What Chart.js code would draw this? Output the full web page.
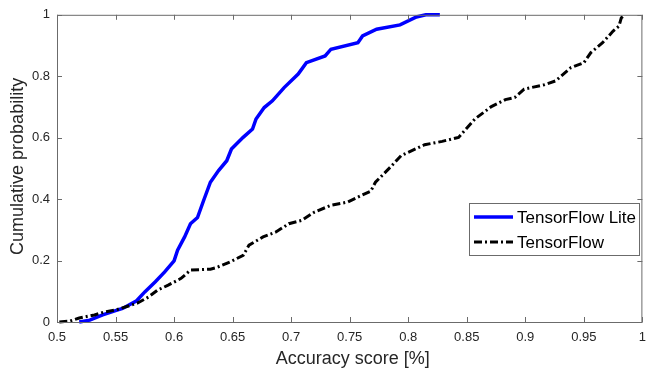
<!DOCTYPE html>
<html>
<head>
<meta charset="utf-8">
<script src="https://cdn.jsdelivr.net/npm/chart.js@4.4.1/dist/chart.umd.min.js"></script>
<style>
  html, body { margin: 0; padding: 0; background: #fff; }
  #wrap { width: 654px; height: 368px; }
</style>
</head>
<body>
<div id="wrap"><canvas id="cdfChart"></canvas></div>
<script>
// values
const tfliteX = [0.519, 0.528, 0.539, 0.550, 0.556, 0.568, 0.575, 0.584, 0.592, 0.600, 0.603, 0.609, 0.614, 0.620, 0.625, 0.631, 0.638, 0.645, 0.649, 0.659, 0.667, 0.670, 0.677, 0.684, 0.694, 0.706, 0.713, 0.729, 0.734, 0.757, 0.761, 0.773, 0.793, 0.807, 0.815, 0.827];
const tfliteY = [0, 0.006, 0.023, 0.037, 0.044, 0.069, 0.098, 0.131, 0.163, 0.199, 0.234, 0.277, 0.320, 0.340, 0.393, 0.455, 0.493, 0.525, 0.563, 0.601, 0.628, 0.661, 0.698, 0.720, 0.763, 0.807, 0.844, 0.866, 0.888, 0.909, 0.931, 0.953, 0.967, 0.993, 1, 1];

const tfX = [0.502, 0.511, 0.519, 0.532, 0.540, 0.550, 0.561, 0.569, 0.578, 0.586, 0.595, 0.606, 0.614, 0.631, 0.636, 0.648, 0.659, 0.664, 0.676, 0.687, 0.698, 0.709, 0.720, 0.734, 0.748, 0.760, 0.768, 0.772, 0.786, 0.794, 0.814, 0.829, 0.843, 0.857, 0.871, 0.883, 0.891, 0.899, 0.916, 0.926, 0.939, 0.950, 0.956, 0.966, 0.975, 0.980, 0.982, 0.985];
const tfY = [0, 0.003, 0.013, 0.023, 0.032, 0.039, 0.052, 0.062, 0.081, 0.104, 0.120, 0.142, 0.169, 0.172, 0.177, 0.196, 0.217, 0.250, 0.277, 0.293, 0.320, 0.331, 0.358, 0.380, 0.390, 0.412, 0.426, 0.455, 0.509, 0.542, 0.577, 0.588, 0.601, 0.661, 0.701, 0.724, 0.731, 0.758, 0.772, 0.785, 0.828, 0.844, 0.877, 0.909, 0.947, 0.963, 0.990, 1];

const xTicks = [0.5, 0.55, 0.6, 0.65, 0.7, 0.75, 0.8, 0.85, 0.9, 0.95, 1];
const yTicks = [0, 0.2, 0.4, 0.6, 0.8, 1];

const seriesNames = ["TensorFlow Lite", "TensorFlow"];

const FONT = "'Liberation Sans', Arial, Helvetica, sans-serif";
const TF_DASH = [8, 3, 2, 3];

function toPoints(xs, ys) {
  return xs.map((x, i) => ({ x: x, y: ys[i] }));
}

// box, inward ticks, titles and legend in MATLAB style
const matlabAxes = {
  id: "matlabAxes",
  afterDraw(chart) {
    const ctx = chart.ctx;
    const a = chart.chartArea;
    const xs = chart.scales.x, ys = chart.scales.y;
    ctx.save();
    ctx.strokeStyle = "#6b6b6b";
    ctx.lineWidth = 1;
    ctx.strokeRect(a.left + 0.5, a.top + 0.5, a.right - a.left - 1, a.bottom - a.top);
    ctx.beginPath();
    xTicks.forEach((v) => {
      const px = Math.round(xs.getPixelForValue(v)) + 0.5;
      ctx.moveTo(px, a.bottom); ctx.lineTo(px, a.bottom - 5);
      ctx.moveTo(px, a.top); ctx.lineTo(px, a.top + 5);
    });
    yTicks.forEach((v) => {
      const py = Math.round(ys.getPixelForValue(v)) + 0.5;
      ctx.moveTo(a.left, py); ctx.lineTo(a.left + 5, py);
      ctx.moveTo(a.right, py); ctx.lineTo(a.right - 5, py);
    });
    ctx.stroke();

    // axis titles
    ctx.fillStyle = "#262626";
    ctx.font = "18px " + FONT;
    ctx.textAlign = "center";
    ctx.textBaseline = "middle";
    ctx.fillText("Accuracy score [%]", (a.left + a.right) / 2 + 3, 359);
    ctx.save();
    ctx.translate(18, (a.top + a.bottom) / 2 - 2);
    ctx.rotate(-Math.PI / 2);
    ctx.fillText("Cumulative probability", 0, 0);
    ctx.restore();

    // legend
    const lx = 469, ly = 203, lw = 170, lh = 52;
    ctx.fillStyle = "#fff";
    ctx.fillRect(lx, ly, lw, lh);
    ctx.strokeStyle = "#6b6b6b";
    ctx.strokeRect(lx + 0.5, ly + 0.5, lw, lh);
    const rows = [
      { y: ly + 14, color: "#0000ff", dash: [], width: 3.5 },
      { y: ly + 39, color: "#000000", dash: TF_DASH, width: 3 }
    ];
    ctx.font = "17px " + FONT;
    ctx.textAlign = "left";
    rows.forEach((r, i) => {
      ctx.beginPath();
      ctx.setLineDash(r.dash);
      ctx.strokeStyle = r.color;
      ctx.lineWidth = r.width;
      ctx.moveTo(lx + 5, r.y);
      ctx.lineTo(lx + 44, r.y);
      ctx.stroke();
      ctx.setLineDash([]);
      ctx.fillStyle = "#000";
      ctx.fillText(seriesNames[i], lx + 48, r.y + 1);
    });
    ctx.restore();
  }
};

const ctx = document.getElementById("cdfChart");

const cdfChart = new Chart(ctx, {
  type: "line",
  data: {
    datasets: [
      {
        label: seriesNames[0],
        data: toPoints(tfliteX, tfliteY),
        borderColor: "#0000ff",
        borderWidth: 3.5,
        pointRadius: 0,
        tension: 0,
        clip: 4,
        order: 1,
      },
      {
        label: seriesNames[1],
        data: toPoints(tfX, tfY),
        borderColor: "#000000",
        borderWidth: 3,
        borderDash: TF_DASH,
        pointRadius: 0,
        tension: 0,
        clip: 4,
        order: 0,
      },
    ],
  },
  options: {
    responsive: true,
    maintainAspectRatio: false,
    animation: false,
    events: [],
    layout: { padding: { top: 14, right: 1, left: 0, bottom: 0 } },
    plugins: {
      legend: { display: false },
      tooltip: { enabled: false },
    },
    scales: {
      x: {
        type: "linear",
        min: 0.5,
        max: 1,
        afterBuildTicks: (scale) => {
          scale.ticks = xTicks.map((v) => ({ value: v }));
        },
        afterFit: (scale) => {
          scale.height = 46;
        },
        grid: { display: false, drawTicks: false },
        border: { display: false },
        ticks: {
          padding: 8,
          color: "#262626",
          font: { family: FONT, size: 13 },
          maxRotation: 0,
          autoSkip: false,
          callback: (v) => String(+Number(v).toFixed(2)),
        },
      },
      y: {
        type: "linear",
        min: 0,
        max: 1,
        afterBuildTicks: (scale) => {
          scale.ticks = yTicks.map((v) => ({ value: v }));
        },
        afterFit: (scale) => {
          scale.width = 57;
        },
        grid: { display: false, drawTicks: false },
        border: { display: false },
        ticks: {
          padding: 7,
          color: "#262626",
          font: { family: FONT, size: 13 },
          autoSkip: false,
          callback: (v) => String(+Number(v).toFixed(1)),
        },
      },
    },
  },
  plugins: [matlabAxes],
});
</script>
</body>
</html>
